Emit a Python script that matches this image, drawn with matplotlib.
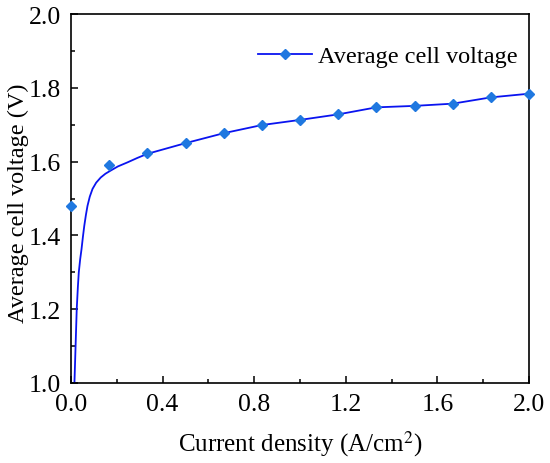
import numpy as np
import matplotlib.pyplot as plt
from matplotlib.ticker import MultipleLocator

plt.rcParams["font.family"] = ["Liberation Serif", "DejaVu Serif"]
plt.rcParams["mathtext.fontset"] = "stix"

# measured points
current = [0.0, 0.167, 0.333, 0.5, 0.667, 0.833, 1.0, 1.167, 1.333, 1.5, 1.667, 1.833, 2.0]
voltage = [1.480, 1.590, 1.622, 1.650, 1.677, 1.699, 1.713, 1.728, 1.747, 1.751, 1.757, 1.774, 1.784]

# fitted curve
fit_x = [0.015, 0.020, 0.025, 0.030, 0.034, 0.040, 0.046, 0.052, 0.058, 0.065, 0.072,
         0.082, 0.094, 0.110, 0.130, 0.150, 0.174, 0.205, 0.247, 0.290, 0.333,
         0.5, 0.667, 0.833, 1.0, 1.167, 1.333, 1.5, 1.667, 1.833, 2.0]
fit_v = [1.0, 1.10, 1.20, 1.26, 1.30, 1.335, 1.363, 1.396, 1.426, 1.455, 1.480,
         1.505, 1.526, 1.543, 1.557, 1.567, 1.576, 1.587, 1.598, 1.610, 1.621,
         1.650, 1.677, 1.699, 1.713, 1.728, 1.747, 1.751, 1.757, 1.774, 1.784]

fig = plt.figure(figsize=(5.5, 4.64), dpi=100)
ax = fig.add_axes([71/550, 80/464, 458/550, 369/464])

ax.plot(fit_x, fit_v, color="#0a14f0", lw=1.3, zorder=2)
ax.plot(current, voltage, ls="none", marker="D", ms=5.5, color="#1f78e0",
        clip_on=False, zorder=3)
# legend handle: line + marker
ax.plot([], [], color="#0a14f0", lw=1.3, marker="D", ms=5.5, mfc="#1f78e0",
        mec="#1f78e0", label="Average cell voltage")

ax.set_xlim(0, 2.0)
ax.set_ylim(1.0, 2.0)
ax.xaxis.set_major_locator(MultipleLocator(0.4))
ax.xaxis.set_minor_locator(MultipleLocator(0.2))
ax.yaxis.set_major_locator(MultipleLocator(0.2))
ax.yaxis.set_minor_locator(MultipleLocator(0.1))
ax.tick_params(which="both", direction="in", labelsize=18.5, width=1.1)
ax.tick_params(which="major", length=5, pad=7)
ax.tick_params(which="minor", length=3)
for s in ax.spines.values():
    s.set_linewidth(1.2)

ax.set_xlabel("Current density (A/cm$^2$)", fontsize=18, labelpad=10)
ax.set_ylabel("Average cell voltage (V)", fontsize=17.5)
ax.yaxis.set_label_coords(-0.092, 0.49)

ax.legend(loc="upper right", frameon=False, fontsize=17.5, numpoints=1,
          handlelength=2.25, handletextpad=0.25, borderaxespad=0, borderpad=0.3,
          bbox_to_anchor=(0.992, 0.935))

fig.savefig("out.png", dpi=100)
